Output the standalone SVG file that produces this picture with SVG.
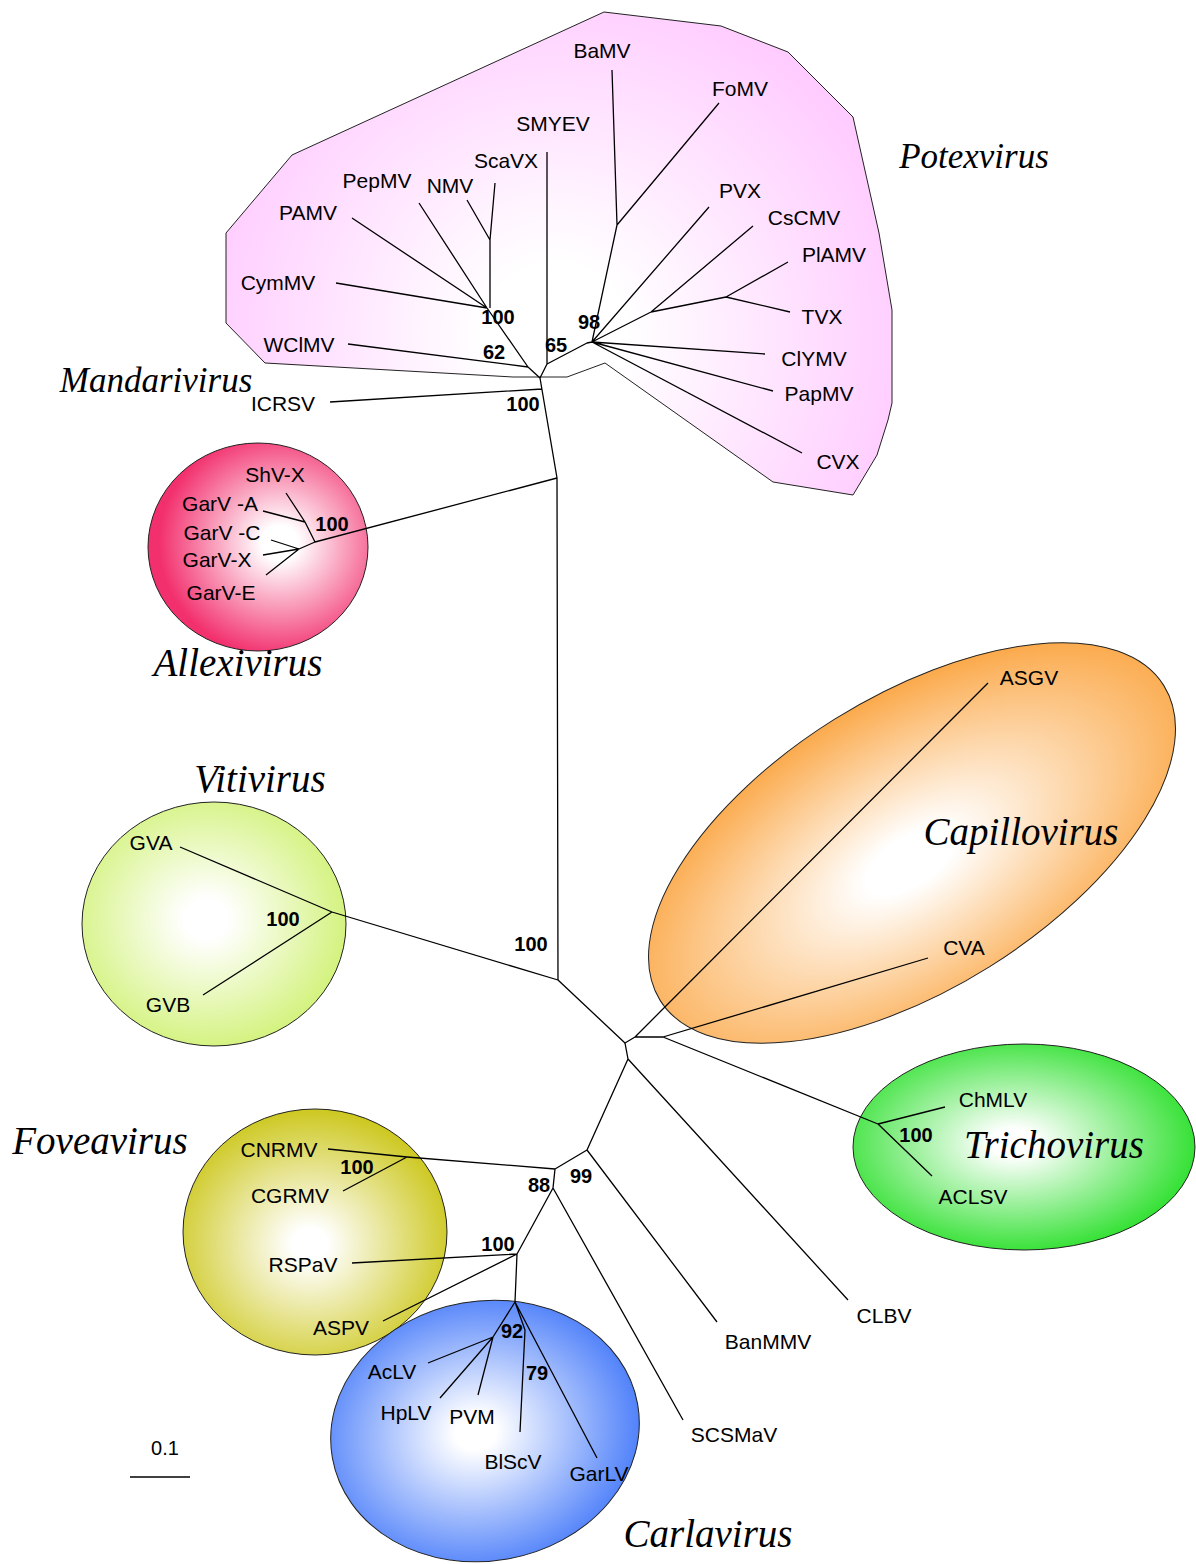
<svg xmlns="http://www.w3.org/2000/svg" width="1196" height="1564" viewBox="0 0 1196 1564">
<defs>
<radialGradient id="gPotex" gradientUnits="userSpaceOnUse" cx="555" cy="335" r="360" fx="555" fy="335">
<stop offset="0" stop-color="#ffffff"/><stop offset="0.2" stop-color="#ffffff"/><stop offset="1" stop-color="#ffccff"/>
</radialGradient>
<radialGradient id="gAllexi" cx="0.6" cy="0.48" r="0.55" fx="0.6" fy="0.48">
<stop offset="0" stop-color="#ffffff"/><stop offset="0.15" stop-color="#ffffff"/><stop offset="1" stop-color="#f2306e"/>
</radialGradient>
<radialGradient id="gViti" cx="0.47" cy="0.48" r="0.55">
<stop offset="0" stop-color="#ffffff"/><stop offset="0.15" stop-color="#ffffff"/><stop offset="1" stop-color="#d2f27a"/>
</radialGradient>
<radialGradient id="gFovea" cx="0.48" cy="0.55" r="0.55">
<stop offset="0" stop-color="#ffffff"/><stop offset="0.12" stop-color="#ffffff"/><stop offset="1" stop-color="#cdc820"/>
</radialGradient>
<radialGradient id="gCarla" cx="0.47" cy="0.5" r="0.55">
<stop offset="0" stop-color="#ffffff"/><stop offset="0.12" stop-color="#ffffff"/><stop offset="1" stop-color="#4a7dfa"/>
</radialGradient>
<radialGradient id="gCapillo" cx="0.48" cy="0.55" r="0.55">
<stop offset="0" stop-color="#ffffff"/><stop offset="0.15" stop-color="#ffffff"/><stop offset="1" stop-color="#fbaa4c"/>
</radialGradient>
<radialGradient id="gTricho" cx="0.47" cy="0.48" r="0.55">
<stop offset="0" stop-color="#ffffff"/><stop offset="0.12" stop-color="#ffffff"/><stop offset="1" stop-color="#2ee02e"/>
</radialGradient>
<style>
.blob{stroke:#222;stroke-width:1}
.br{stroke:#000;stroke-width:1.3;fill:none;stroke-linejoin:round}
.lab{font-family:"Liberation Sans",Arial,sans-serif;font-size:21px;fill:#000;text-anchor:middle}
.bs{font-family:"Liberation Sans",Arial,sans-serif;font-size:20px;font-weight:bold;fill:#000;text-anchor:middle}
.grp{font-family:"Liberation Serif","Times New Roman",serif;font-style:italic;font-size:39px;fill:#000;text-anchor:middle}
</style>
</defs>
<rect width="1196" height="1564" fill="#ffffff"/>

<g id="potexvirus">
<polygon class="blob" fill="url(#gPotex)" points="604,12 721,26 788,52 853,117 879,233 892,310 892,403 888,420 877,455 853,495 773,482 605,363 567,377 513,377 265,363 226,323 226,233 292,155"/>
<text class="grp" x="974" y="168" style="font-size:35px">Potexvirus</text>
</g>
<g id="allexivirus">
<ellipse class="blob" fill="url(#gAllexi)" cx="258" cy="547" rx="110" ry="104"/>
<text class="grp" x="238" y="676">Allexivirus</text>
</g>
<g id="vitivirus">
<ellipse class="blob" fill="url(#gViti)" cx="214" cy="924" rx="132" ry="122"/>
<text class="grp" x="260" y="792">Vitivirus</text>
</g>
<g id="capillovirus">
<ellipse class="blob" fill="url(#gCapillo)" cx="912" cy="843" rx="297" ry="146" transform="rotate(-32 912 843)"/>
<text class="grp" x="1021" y="845">Capillovirus</text>
</g>
<g id="trichovirus">
<ellipse class="blob" fill="url(#gTricho)" cx="1024" cy="1147" rx="171" ry="103"/>
<text class="grp" x="1054" y="1158">Trichovirus</text>
</g>
<g id="foveavirus">
<ellipse class="blob" fill="url(#gFovea)" cx="315" cy="1232" rx="132" ry="123"/>
<text class="grp" x="100" y="1154">Foveavirus</text>
</g>
<g id="carlavirus">
<ellipse class="blob" fill="url(#gCarla)" cx="485" cy="1431" rx="155" ry="130" transform="rotate(-10 485 1431)"/>
<text class="grp" x="708" y="1547">Carlavirus</text>
</g>
<g id="mandarivirus">
<text class="grp" x="156" y="392" style="font-size:35px">Mandarivirus</text>
</g>

<g id="connectors">
<path class="br" d="M540,378 L528,367 L348,344 M528,367 L487,308 L352,218 M487,308 L336,283 M487,308 L419,203 M490,308 L490,240 L467,200 M490,240 L495,183"/>
<path class="br" d="M540,378 L547,364 L547,152 M547,364 L587,343 L592,342 L617,225 L612,70 M617,225 L719,103 M592,342 L709,207 M592,342 L651,312 L753,226 M651,312 L726,297 L788,262 M726,297 L790,312 M592,342 L765,354 M592,342 L773,391 M592,342 L802,453"/>
<path class="br" d="M540,378 L557,478 M542,389 L330,402"/>
<path class="br" d="M557,478 L558,980 M557,478 L315,542 L305,522 L286,493 M305,522 L263,511 M315,542 L299,549 L271,540 M299,549 L263,555 M299,549 L266,575"/>
<path class="br" d="M558,980 L332,912 L180,847 M332,912 L203,995"/>
<path class="br" d="M558,980 L625,1043 L635,1037 L988,683 M635,1037 L663,1037 L928,958 M663,1037 L878,1124 L945,1107 M878,1124 L932,1176"/>
<path class="br" d="M625,1043 L628,1059 L848,1300 M628,1059 L587,1150 L717,1322 M587,1150 L555,1169 L407,1157 L328,1149 M407,1157 L343,1191 M555,1169 L553,1188 L683,1420 M553,1188 L517,1254 L352,1263 M517,1254 L383,1321 M517,1254 L515,1302 L493,1337 L428,1363 M493,1337 L440,1398 M493,1337 L478,1395 M515,1302 L525,1330 L520,1432 M515,1302 L597,1458"/>
<path class="br" d="M130,1477 L190,1477"/>
</g>

<g id="labels">
<text class="lab" x="602" y="58">BaMV</text>
<text class="lab" x="740" y="96">FoMV</text>
<text class="lab" x="553" y="131">SMYEV</text>
<text class="lab" x="506" y="168">ScaVX</text>
<text class="lab" x="377" y="188">PepMV</text>
<text class="lab" x="450" y="193">NMV</text>
<text class="lab" x="308" y="220">PAMV</text>
<text class="lab" x="278" y="290">CymMV</text>
<text class="lab" x="299" y="352">WClMV</text>
<text class="lab" x="740" y="198">PVX</text>
<text class="lab" x="804" y="225">CsCMV</text>
<text class="lab" x="834" y="262">PlAMV</text>
<text class="lab" x="822" y="324">TVX</text>
<text class="lab" x="814" y="366">ClYMV</text>
<text class="lab" x="819" y="401">PapMV</text>
<text class="lab" x="838" y="469">CVX</text>
<text class="lab" x="283" y="411">ICRSV</text>
<text class="bs" x="498" y="324">100</text>
<text class="bs" x="494" y="359">62</text>
<text class="bs" x="556" y="352">65</text>
<text class="bs" x="589" y="329">98</text>
<text class="bs" x="523" y="411">100</text>

<text class="lab" x="275" y="482">ShV-X</text>
<text class="lab" x="220" y="511">GarV -A</text>
<text class="lab" x="222" y="540">GarV -C</text>
<text class="lab" x="217" y="567">GarV-X</text>
<text class="lab" x="221" y="600">GarV-E</text>
<text class="bs" x="332" y="531">100</text>

<text class="lab" x="151" y="850">GVA</text>
<text class="lab" x="168" y="1012">GVB</text>
<text class="bs" x="283" y="926">100</text>
<text class="bs" x="531" y="951">100</text>

<text class="lab" x="1029" y="685">ASGV</text>
<text class="lab" x="964" y="955">CVA</text>
<text class="lab" x="993" y="1107">ChMLV</text>
<text class="lab" x="973" y="1204">ACLSV</text>
<text class="bs" x="916" y="1142">100</text>

<text class="lab" x="884" y="1323">CLBV</text>
<text class="lab" x="768" y="1349">BanMMV</text>
<text class="lab" x="734" y="1442">SCSMaV</text>

<text class="lab" x="279" y="1157">CNRMV</text>
<text class="lab" x="290" y="1203">CGRMV</text>
<text class="lab" x="303" y="1272">RSPaV</text>
<text class="lab" x="341" y="1335">ASPV</text>
<text class="bs" x="357" y="1174">100</text>
<text class="bs" x="498" y="1251">100</text>
<text class="bs" x="539" y="1192">88</text>
<text class="bs" x="581" y="1183">99</text>

<text class="lab" x="392" y="1379">AcLV</text>
<text class="lab" x="406" y="1420">HpLV</text>
<text class="lab" x="472" y="1424">PVM</text>
<text class="lab" x="513" y="1469">BlScV</text>
<text class="lab" x="599" y="1481">GarLV</text>
<text class="bs" x="512" y="1338">92</text>
<text class="bs" x="537" y="1380">79</text>

<text class="lab" x="165" y="1455" style="font-size:20px">0.1</text>
</g>
</svg>
